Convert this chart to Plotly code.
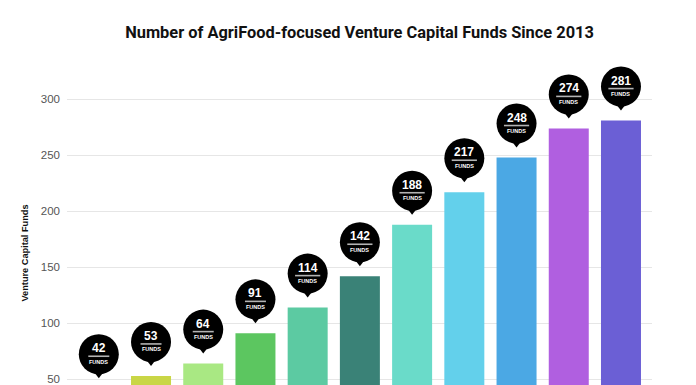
import plotly.graph_objects as go

years = ["2013", "2014", "2015", "2016", "2017", "2018", "2019", "2020", "2021", "2022", "2023"]
funds = [42, 53, 64, 91, 114, 142, 188, 217, 248, 274, 281]
bar_colors = ["#e3d64a", "#c9d646", "#a9e883", "#5cc660", "#5ccaa2", "#3a8277",
              "#6adbc9", "#63d0eb", "#4ba8e4", "#b05fe0", "#6b5fd5"]
y_ticks = [50, 100, 150, 200, 250, 300]

W, H = 696, 385
M = dict(l=59, r=52, t=47, b=8)
Y_RANGE = [44.9, 339.55]
PX = (H - M["t"] - M["b"]) / (Y_RANGE[1] - Y_RANGE[0])  # pixels per data unit

SANS = "Liberation Sans, Arial, sans-serif"

fig = go.Figure()
fig.add_trace(go.Bar(
    x=years, y=funds, marker=dict(color=bar_colors, line=dict(width=0)),
    hoverinfo="skip", showlegend=False,
))

# pin bodies (pointer + circle) and underline, offset in pixels above bar top
fig.add_trace(go.Scatter(
    x=years, y=[v + 16 / PX for v in funds], mode="markers",
    marker=dict(symbol="triangle-down", size=12, color="black", line=dict(width=0)),
    hoverinfo="skip", showlegend=False, cliponaxis=False,
))
fig.add_trace(go.Scatter(
    x=years, y=[v + 34 / PX for v in funds], mode="markers",
    marker=dict(symbol="circle", size=40, color="black", line=dict(width=0)),
    hoverinfo="skip", showlegend=False, cliponaxis=False,
))
fig.add_trace(go.Scatter(
    x=years, y=[v + 32 / PX for v in funds], mode="markers",
    marker=dict(symbol="line-ew", size=[15 if v < 100 else 18 for v in funds],
                color="white", line=dict(width=1.6, color="white")),
    hoverinfo="skip", showlegend=False, cliponaxis=False,
))

annotations = []
for i, v in enumerate(funds):
    annotations.append(dict(x=i, y=v + 40 / PX, xref="x", yref="y", text=f"<b>{v}</b>",
                            showarrow=False, yanchor="middle",
                            font=dict(family=SANS, size=12, color="white")))
    annotations.append(dict(x=i, y=v + 26.5 / PX, xref="x", yref="y", text="<b>FUNDS</b>",
                            showarrow=False, yanchor="middle",
                            font=dict(family=SANS, size=5.5, color="white")))

annotations.append(dict(text="<b>Venture Capital Funds</b>", textangle=-90,
                        xref="paper", yref="paper", x=-0.0718, y=0.4015,
                        xanchor="center", yanchor="middle", showarrow=False,
                        font=dict(family=SANS, size=9.2, color="#111")))

fig.update_layout(
    width=W, height=H,
    margin=M,
    paper_bgcolor="white", plot_bgcolor="white",
    bargap=0.234,
    title=dict(text="<b>Number of AgriFood-focused Venture Capital Funds Since 2013</b>",
               x=0.5, xref="paper", xanchor="center",
               y=(H - 24) / H, yref="container", yanchor="middle",
               font=dict(family="Roboto, sans-serif", size=16.4, color="#111")),
    xaxis=dict(type="category", range=[-0.609, 10.594], showticklabels=False,
               showgrid=False, zeroline=False, showline=False, ticks=""),
    yaxis=dict(range=Y_RANGE, tickvals=y_ticks, showgrid=True,
               gridcolor="#e6e6e6", gridwidth=1, zeroline=False, showline=False,
               ticks="", ticklabelstandoff=6,
               tickfont=dict(family=SANS, size=11.5, color="#555")),
    annotations=annotations,
)

fig.write_html("out.html")
